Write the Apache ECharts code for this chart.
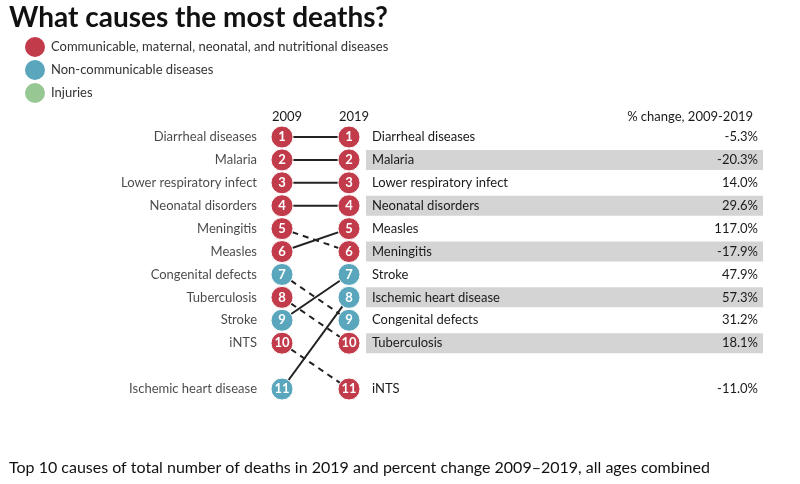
<!DOCTYPE html>
<html>
<head>
<meta charset="utf-8">
<script src="https://cdn.jsdelivr.net/npm/echarts@6/dist/echarts.min.js"></script>
<style>html,body{margin:0;padding:0;background:#fff}#c{width:800px;height:484px}</style>
</head>
<body>
<div id="c"></div>
<script>
// ---- data ----
var causes   = ["Diarrheal diseases","Malaria","Lower respiratory infect","Neonatal disorders","Meningitis","Measles","Congenital defects","Tuberculosis","Stroke","iNTS","Ischemic heart disease"];
var rank2009 = [1,2,3,4,5,6,7,8,9,10,11];
var rank2019 = [1,2,3,4,6,5,9,10,7,11,8];
var groups   = ["C","C","C","C","C","C","N","C","N","C","N"];
var pctChange = [-5.3,-20.3,14.0,29.6,-17.9,117.0,31.2,18.1,47.9,-11.0,57.3];
var years = [2009, 2019];
var groupNames = {C:"Communicable, maternal, neonatal, and nutritional diseases", N:"Non-communicable diseases", I:"Injuries"};
var groupColors = {C:"#c23b4b", N:"#5aa6bd", I:"#97c893"};

// rank 11 is drawn after a blank row
function row(r){ return r <= 10 ? r : 12; }

var FONT = "Lato";
var chart = echarts.init(document.getElementById('c'));
var series = [];

// connecting lines
causes.forEach(function(c,i){
  series.push({
    type:'line', xAxisIndex:0, yAxisIndex:0, silent:true, symbol:'none', z:1,
    data:[[years[0],row(rank2009[i])],[years[1],row(rank2019[i])]],
    lineStyle:{color:'#222', width:2, type: rank2019[i] > rank2009[i] ? [6,5] : 'solid'}
  });
});

// circles by group
["C","N","I"].forEach(function(g){
  var d = [];
  causes.forEach(function(c,i){
    if (groups[i] !== g) return;
    d.push({value:[years[0],row(rank2009[i]),rank2009[i]]});
    d.push({value:[years[1],row(rank2019[i]),rank2019[i]]});
  });
  series.push({
    type:'scatter', name:groupNames[g], xAxisIndex:0, yAxisIndex:0, z:3,
    symbol:'circle', symbolSize:22,
    itemStyle:{color:groupColors[g], borderColor:'#fff', borderWidth:1, opacity:1},
    label:{show:true, position:'inside', color:'#fff', fontFamily:FONT, fontSize:13, fontWeight:'bold',
      formatter:function(p){return p.value[2];}},
    data:d
  });
});

// left names (2009 order)
series.push({
  type:'scatter', xAxisIndex:0, yAxisIndex:0, z:2, silent:true,
  symbol:'circle', symbolSize:22, itemStyle:{color:'rgba(0,0,0,0)'},
  label:{show:true, position:'left', distance:14, color:'#1a1a1a', fontFamily:FONT, fontSize:13,
    formatter:function(p){return p.name;}},
  data:causes.map(function(c,i){return {name:c, value:[years[0],row(rank2009[i])]};})
});

// right table (2019 order)
series.push({
  type:'custom', xAxisIndex:1, yAxisIndex:1, silent:true, z:0,
  data:causes.map(function(c,i){return [row(rank2019[i]), c, pctChange[i], rank2019[i]];}),
  renderItem:function(params, api){
    var r = api.value(0);
    var p0 = api.coord([0, r]);
    var p1 = api.coord([1, r]);
    var idx = params.dataIndex;
    var rk = rank2019[idx];
    var pct = pctChange[idx].toFixed(1) + '%';
    var children = [];
    if (rk % 2 === 0 && rk <= 10) {
      children.push({type:'rect', shape:{x:p0[0], y:p0[1]-10, width:p1[0]-p0[0], height:20}, style:{fill:'#d4d4d4'}});
    }
    children.push({type:'text', style:{text:causes[idx], x:p0[0]+6, y:p0[1], textVerticalAlign:'middle', verticalAlign:'middle', fill:'#1a1a1a', font:'13px '+FONT}});
    children.push({type:'text', style:{text:pct, x:p1[0]-5, y:p0[1], textAlign:'right', align:'right', textVerticalAlign:'middle', verticalAlign:'middle', fill:'#1a1a1a', font:'13px '+FONT}});
    return {type:'group', children:children};
  }
});

chart.setOption({
  animation:false,
  textStyle:{fontFamily:FONT},
  title:[
    {text:'What causes the most deaths?', left:4, top:-1, textStyle:{fontFamily:FONT, fontSize:28, fontWeight:'bold', color:'#111'}},
    {text:'2009', left:282, top:105, textAlign:'center', textStyle:{fontFamily:FONT, fontSize:13, fontWeight:'normal', color:'#1a1a1a'}},
    {text:'2019', left:349, top:105, textAlign:'center', textStyle:{fontFamily:FONT, fontSize:13, fontWeight:'normal', color:'#1a1a1a'}},
    {text:'% change, 2009-2019', right:42, top:105, textStyle:{fontFamily:FONT, fontSize:13, fontWeight:'normal', color:'#1a1a1a'}},
    {text:'Top 10 causes of total number of deaths in 2019 and percent change 2009\u20132019, all ages combined', left:4, top:455, textStyle:{fontFamily:FONT, fontSize:16, fontWeight:'normal', color:'#111'}}
  ],
  legend:{
    orient:'vertical', left:18, top:30, icon:'circle', itemWidth:22, itemHeight:22, itemGap:-1,
    data:[groupNames.C, groupNames.N, groupNames.I],
    textStyle:{fontFamily:FONT, fontSize:13, color:'#333', padding:0},
    selectedMode:false
  },
  grid:[
    {left:282, width:67, top:137, height:252},
    {left:366, width:397, top:137, height:252}
  ],
  xAxis:[
    {type:'value', gridIndex:0, min:2009, max:2019, show:false},
    {type:'value', gridIndex:1, min:0, max:1, show:false}
  ],
  yAxis:[
    {type:'value', gridIndex:0, min:1, max:12, inverse:true, show:false},
    {type:'value', gridIndex:1, min:1, max:12, inverse:true, show:false}
  ],
  series:series
});
</script>
</body>
</html>
